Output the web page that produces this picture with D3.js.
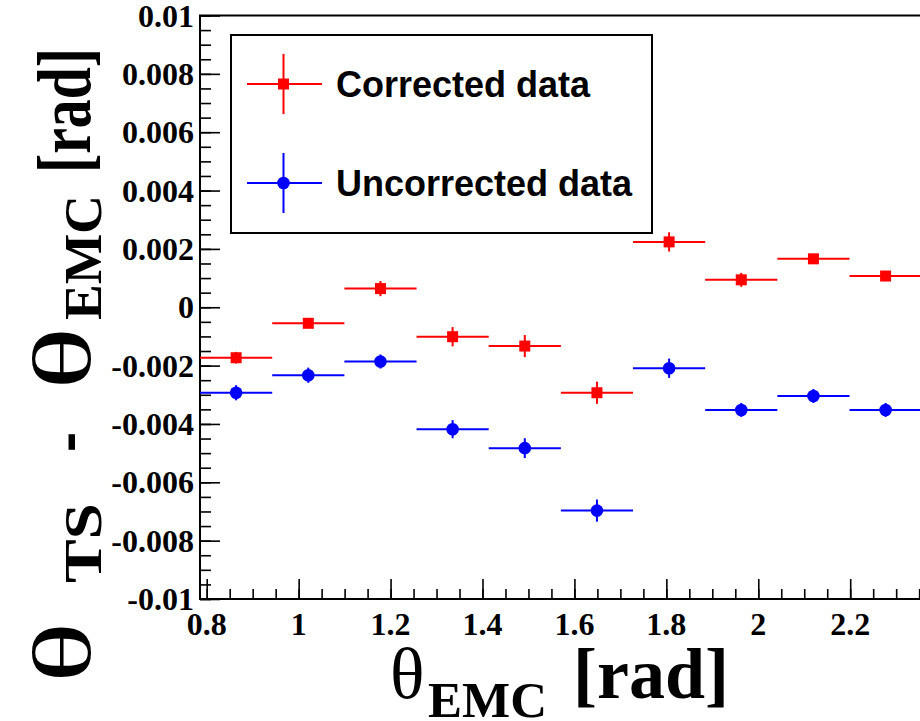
<!DOCTYPE html>
<html>
<head>
<meta charset="utf-8">
<script src="https://cdn.jsdelivr.net/npm/d3@7"></script>
<style>
  body { margin: 0; background: #fff; }
</style>
</head>
<body>
<div id="chart"></div>
<script>
// bins in theta_EMC (rad)
let binCenters = [0.864, 1.021, 1.178, 1.335, 1.492, 1.649, 1.806, 1.963, 2.120, 2.277]
let binHalfWidth = 0.0785

// theta_TS - theta_EMC (rad)
let corrected = [-0.00173, -0.00055, 0.00064, -0.00101, -0.00133, -0.00293, 0.00224, 0.00094, 0.00166, 0.00107]
let correctedErr = [0.0002, 0.00015, 0.00026, 0.00033, 0.00038, 0.00038, 0.00033, 0.00024, 0.00015, 0.00015]
let uncorrected = [-0.00293, -0.00233, -0.00186, -0.00418, -0.00483, -0.00697, -0.00209, -0.00352, -0.00304, -0.00352]
let uncorrectedErr = [0.00026, 0.00026, 0.00024, 0.00031, 0.00034, 0.00038, 0.00033, 0.00024, 0.00024, 0.00024]

// axis ticks
let xTicks = [0.8, 1, 1.2, 1.4, 1.6, 1.8, 2, 2.2]
let xTickLabels = ["0.8", "1", "1.2", "1.4", "1.6", "1.8", "2", "2.2"]
let yTicks = [0.01, 0.008, 0.006, 0.004, 0.002, 0, -0.002, -0.004, -0.006, -0.008, -0.01]
let yTickLabels = ["0.01", "0.008", "0.006", "0.004", "0.002", "0", "-0.002", "-0.004", "-0.006", "-0.008", "-0.01"]

let legendLabels = ["Corrected data", "Uncorrected data"]

let width = 920
let height = 721
let serif = "'Liberation Serif', 'Times New Roman', serif"
let sans = "'Liberation Sans', Arial, sans-serif"

let svg = d3.select("#chart")
  .append("svg")
  .attr("width", width)
  .attr("height", height)
  .style("display", "block")

let x = d3.scaleLinear().domain([Math.PI / 4, 3 * Math.PI / 4]).range([200, 922])
let y = d3.scaleLinear().domain([-0.01, 0.01]).range([599, 15.5])

// minor ticks every quarter of a major step
let xMinor = d3.range(0.8, 2.36, 0.05).filter(v => v >= x.domain()[0])
let yMinor = d3.range(-0.01, 0.01001, 0.0005)

// x axis, ticks pointing inside
let xAxis = svg.append("g").attr("transform", "translate(0,599)")
xAxis.call(d3.axisTop(x).tickValues(xMinor).tickSize(10).tickFormat(""))
xAxis.append("g").call(d3.axisTop(x).tickValues(xTicks).tickSize(20).tickFormat(""))
xAxis.selectAll(".domain").remove()
xAxis.selectAll("line").attr("stroke", "#000").attr("stroke-width", 1.6)

xAxis.selectAll(".xlab")
  .data(xTicks)
  .enter()
  .append("text")
  .attr("class", "xlab")
  .attr("x", d => x(d))
  .attr("y", 36)
  .attr("text-anchor", "middle")
  .attr("fill", "#000")
  .style("font-family", serif)
  .style("font-weight", "bold")
  .style("font-size", "32px")
  .text((d, i) => xTickLabels[i])

// y axis
let yAxis = svg.append("g").attr("transform", "translate(200,0)")
yAxis.call(d3.axisRight(y).tickValues(yMinor).tickSize(11).tickFormat(""))
yAxis.append("g").call(d3.axisRight(y).tickValues(yTicks).tickSize(20).tickFormat(""))
yAxis.selectAll(".domain").remove()
yAxis.selectAll("line").attr("stroke", "#000").attr("stroke-width", 1.6)

yAxis.selectAll(".ylab")
  .data(yTicks)
  .enter()
  .append("text")
  .attr("class", "ylab")
  .attr("x", -6)
  .attr("y", d => y(d) + 11)
  .attr("text-anchor", "end")
  .attr("fill", "#000")
  .style("font-family", serif)
  .style("font-weight", "bold")
  .style("font-size", "32px")
  .text((d, i) => yTickLabels[i])

// frame
svg.append("rect")
  .attr("x", x.range()[0])
  .attr("y", y.range()[1])
  .attr("width", x.range()[1] - x.range()[0])
  .attr("height", y.range()[0] - y.range()[1])
  .attr("fill", "none")
  .attr("stroke", "#000")
  .attr("stroke-width", 2)

// one series of points with bin-width and error bars
function drawSeries(values, errors, color, shape) {
  let g = svg.append("g")
  let pts = values.map((v, i) => ({ c: binCenters[i], v: v, e: errors[i] }))

  g.selectAll(".hbar").data(pts).enter().append("line")
    .attr("x1", d => x(d.c - binHalfWidth))
    .attr("x2", d => x(d.c + binHalfWidth))
    .attr("y1", d => y(d.v))
    .attr("y2", d => y(d.v))
    .attr("stroke", color)
    .attr("stroke-width", 2)

  g.selectAll(".vbar").data(pts).enter().append("line")
    .attr("x1", d => x(d.c))
    .attr("x2", d => x(d.c))
    .attr("y1", d => y(d.v - d.e))
    .attr("y2", d => y(d.v + d.e))
    .attr("stroke", color)
    .attr("stroke-width", 2)

  if (shape == "square") {
    g.selectAll(".mk").data(pts).enter().append("rect")
      .attr("x", d => x(d.c) - 5.5)
      .attr("y", d => y(d.v) - 5.5)
      .attr("width", 11)
      .attr("height", 11)
      .attr("fill", color)
  } else {
    g.selectAll(".mk").data(pts).enter().append("circle")
      .attr("cx", d => x(d.c))
      .attr("cy", d => y(d.v))
      .attr("r", 6.3)
      .attr("fill", color)
  }
}

drawSeries(corrected, correctedErr, "#ff0000", "square")
drawSeries(uncorrected, uncorrectedErr, "#0000ff", "circle")

// legend
let legend = svg.append("g")
legend.append("rect")
  .attr("x", 231)
  .attr("y", 35)
  .attr("width", 421)
  .attr("height", 198)
  .attr("fill", "#fff")
  .attr("stroke", "#000")
  .attr("stroke-width", 2)

let legendItems = [
  { label: legendLabels[0], color: "#ff0000", shape: "square", cy: 84 },
  { label: legendLabels[1], color: "#0000ff", shape: "circle", cy: 183 }
]
legendItems.forEach(d => {
  legend.append("line")
    .attr("x1", 247).attr("x2", 322)
    .attr("y1", d.cy).attr("y2", d.cy)
    .attr("stroke", d.color).attr("stroke-width", 2)
  legend.append("line")
    .attr("x1", 283.5).attr("x2", 283.5)
    .attr("y1", d.cy - 30).attr("y2", d.cy + 30)
    .attr("stroke", d.color).attr("stroke-width", 2)
  if (d.shape == "square") {
    legend.append("rect")
      .attr("x", 283.5 - 5.5).attr("y", d.cy - 5.5)
      .attr("width", 11).attr("height", 11)
      .attr("fill", d.color)
  } else {
    legend.append("circle")
      .attr("cx", 283.5).attr("cy", d.cy).attr("r", 6.3)
      .attr("fill", d.color)
  }
  legend.append("text")
    .attr("x", 336)
    .attr("y", d.cy + 13)
    .style("font-family", sans)
    .style("font-weight", "bold")
    .style("font-size", "36px")
    .text(d.label)
})

// x axis title: theta_EMC [rad]
let xTitle = svg.append("text")
  .attr("y", 698)
  .style("font-family", serif)
xTitle.append("tspan").attr("x", 390).style("font-size", "72px").text("θ")
xTitle.append("tspan").attr("x", 428).attr("dy", 19)
  .style("font-size", "51px").style("font-weight", "bold").text("EMC")
xTitle.append("tspan").attr("x", 573).attr("dy", -19)
  .style("font-size", "72px").style("font-weight", "bold").text("[rad]")

// y axis title: theta_TS - theta_EMC [rad], rotated
let yTitle = svg.append("g").attr("transform", "translate(90,0) rotate(-90)")
let yParts = [
  { t: "θ", from: 683, to: 622, v: 0, size: 82, bold: false },
  { t: "TS", from: 583, to: 503, v: 11, size: 52, bold: true },
  { t: "-", from: 452, to: 432, v: 0, size: 76, bold: true },
  { t: "θ", from: 390, to: 327, v: 0, size: 82, bold: false },
  { t: "EMC", from: 320, to: 195, v: 11, size: 52, bold: true },
  { t: "[rad]", from: 173, to: 48, v: 0, size: 76, bold: true }
]
yParts.forEach(p => {
  yTitle.append("text")
    .attr("x", -p.from)
    .attr("y", p.v)
    .attr("textLength", p.from - p.to)
    .attr("lengthAdjust", "spacingAndGlyphs")
    .style("font-family", serif)
    .style("font-weight", p.bold ? "bold" : "normal")
    .style("font-size", p.size + "px")
    .text(p.t)
})
</script>
</body>
</html>
